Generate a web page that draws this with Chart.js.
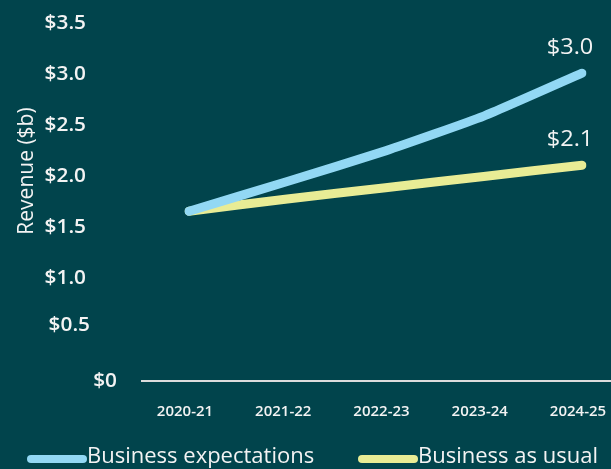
<!DOCTYPE html>
<html>
<head>
<meta charset="utf-8">
<script src="https://cdn.jsdelivr.net/npm/chart.js@4"></script>
<style>
  html, body { margin: 0; padding: 0; background: #01444c; }
  #wrap { width: 611px; height: 469px; position: relative; }
</style>
</head>
<body>
<div id="wrap"><canvas id="c" width="611" height="469"></canvas></div>
<script>
// Financial years on the horizontal axis
const years = ['2020-21', '2021-22', '2022-23', '2023-24', '2024-25'];
// Revenue projections, $ billions
const expectations = [1.65, 1.94, 2.24, 2.58, 3.0];
const businessAsUsual = [1.65, 1.77, 1.88, 1.99, 2.1];
// Revenue axis ticks
const yTicks = [0, 0.5, 1.0, 1.5, 2.0, 2.5, 3.0, 3.5];
const yTickLabels = ['$0', '$0.5', '$1.0', '$1.5', '$2.0', '$2.5', '$3.0', '$3.5'];
const seriesNames = ['Business expectations', 'Business as usual'];
const axisTitle = 'Revenue ($b)';

const BLUE = '#92d8f4';
const YELLOW = '#e8ec95';
const TEXT = '#f3f3f3';
const FONT = '"Open Sans", "Noto Sans", sans-serif';

// Small nudges for particular revenue tick labels
const tickNudge = { 0: { dx: 31, dy: 0 }, 0.5: { dx: 4, dy: -5 } };

// Text drawn slightly widened
function wideText(ctx, text, x, y, sx, align) {
  ctx.save();
  ctx.translate(x, y);
  ctx.scale(sx, 1);
  ctx.textAlign = align;
  ctx.fillText(text, 0, 0);
  ctx.restore();
}

const overlay = {
  id: 'overlay',
  beforeDatasetsDraw(chart) {
    const { ctx } = chart;
    const y = chart.scales.y;
    const y0 = y.getPixelForValue(0);
    ctx.save();
    // baseline
    ctx.strokeStyle = '#dcdcdc';
    ctx.lineWidth = 2;
    ctx.beginPath();
    ctx.moveTo(141, y0 + 1);
    ctx.lineTo(611, y0 + 1);
    ctx.stroke();

    // revenue tick labels
    ctx.fillStyle = TEXT;
    ctx.font = '600 20px ' + FONT;
    ctx.textBaseline = 'middle';
    yTicks.forEach((v, i) => {
      const n = tickNudge[v] || { dx: 0, dy: 0 };
      wideText(ctx, yTickLabels[i], 86 + n.dx, y.getPixelForValue(v) + 1 + n.dy, 1.04, 'right');
    });

    // axis title
    ctx.translate(27, 171);
    ctx.rotate(-Math.PI / 2);
    ctx.textAlign = 'center';
    ctx.font = '400 21px ' + FONT;
    ctx.fillText(axisTitle, 0, 0);
    ctx.restore();
  },
  afterDatasetsDraw(chart) {
    const { ctx } = chart;
    ctx.save();
    // end-point value labels
    ctx.fillStyle = TEXT;
    ctx.font = '400 21px ' + FONT;
    ctx.textBaseline = 'middle';
    chart.data.datasets.forEach((ds, i) => {
      const meta = chart.getDatasetMeta(i);
      const last = meta.data[meta.data.length - 1];
      const v = ds.data[ds.data.length - 1];
      wideText(ctx, '$' + v.toFixed(1), last.x - 12, last.y - 25, 1.12, 'center');
    });

    // legend
    ctx.font = '400 22px ' + FONT;
    const starts = [27, 358];
    chart.data.datasets.forEach((ds, i) => {
      const x = starts[i];
      ctx.strokeStyle = ds.borderColor;
      ctx.lineWidth = 8;
      ctx.lineCap = 'round';
      ctx.beginPath();
      ctx.moveTo(x + 4, 459);
      ctx.lineTo(x + 56, 459);
      ctx.stroke();
      ctx.fillStyle = TEXT;
      wideText(ctx, ds.label, x + 60, 457, 1.0, 'left');
    });
    ctx.restore();
  }
};

new Chart(document.getElementById('c'), {
  type: 'line',
  data: {
    labels: years,
    datasets: [
      { label: seriesNames[0], data: expectations, borderColor: BLUE, order: 1 },
      { label: seriesNames[1], data: businessAsUsual, borderColor: YELLOW, order: 2 }
    ]
  },
  options: {
    responsive: false,
    animation: false,
    devicePixelRatio: 1,
    layout: { padding: { top: 22, right: 29, left: 0, bottom: 0 } },
    elements: {
      line: { borderWidth: 9, borderCapStyle: 'round', borderJoinStyle: 'round', tension: 0.15, fill: false },
      point: { radius: 0, hoverRadius: 0 }
    },
    plugins: { legend: { display: false }, tooltip: { enabled: false } },
    scales: {
      x: {
        offset: false,
        grid: { display: false },
        border: { display: false },
        ticks: {
          color: TEXT,
          font: { family: FONT, size: 15, weight: '600' },
          padding: 15,
          labelOffset: -4,
          maxRotation: 0
        },
        afterFit(s) { s.height = 89; s.paddingLeft = 0; s.paddingRight = 0; }
      },
      y: {
        min: 0,
        max: 3.5,
        grid: { display: false },
        border: { display: false },
        ticks: { display: false, stepSize: 0.5 },
        afterFit(s) { s.width = 189; }
      }
    }
  },
  plugins: [overlay]
});
</script>
</body>
</html>
